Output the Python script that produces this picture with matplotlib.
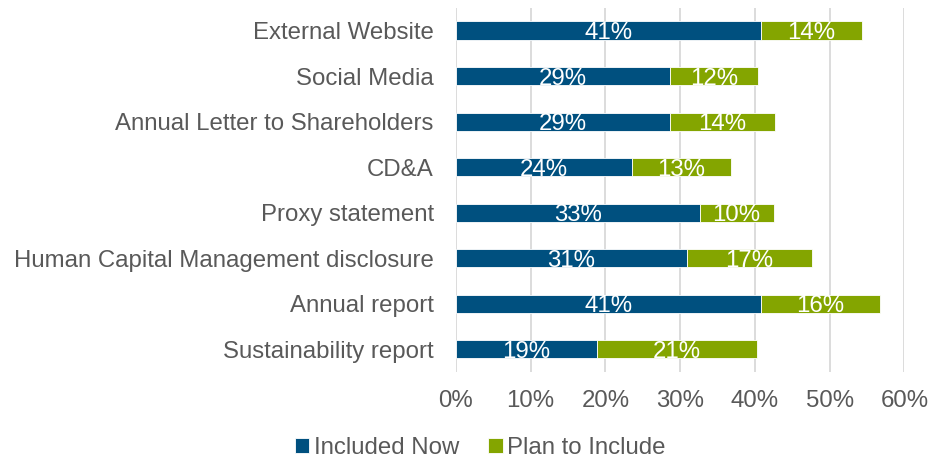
import numpy as np
import matplotlib.pyplot as plt

categories = [
    "External Website",
    "Social Media",
    "Annual Letter to Shareholders",
    "CD&A",
    "Proxy statement",
    "Human Capital Management disclosure",
    "Annual report",
    "Sustainability report",
]
included_now = [40.8, 28.6, 28.6, 23.6, 32.6, 30.9, 40.8, 18.9]
plan_to_include = [13.6, 11.8, 14.1, 13.2, 9.9, 16.8, 16.0, 21.4]
xticks = [0, 10, 20, 30, 40, 50, 60]

blue = "#00507F"
green = "#84A500"
grey = "#595959"

plt.rcParams["font.family"] = ["Liberation Sans", "DejaVu Sans"]

fig = plt.figure(figsize=(9.42, 4.61), dpi=100)
ax = fig.add_axes([0.484, 0.193, 0.476, 0.790])

y = np.arange(len(categories))
now = np.array(included_now)
plan = np.array(plan_to_include)

b1 = ax.barh(y, now, height=0.4, color=blue, edgecolor="white", linewidth=0.6,
             label="Included Now", zorder=3)
b2 = ax.barh(y, plan, left=now, height=0.4, color=green, edgecolor="white",
             linewidth=0.6, label="Plan to Include", zorder=3)

# white percentage labels centred in each segment
for bars, vals in ((b1, now), (b2, plan)):
    for bar, v in zip(bars, vals):
        ax.text(bar.get_x() + bar.get_width() / 2, bar.get_y() + bar.get_height() / 2,
                f"{v:.0f}%", ha="center", va="center_baseline", color="white",
                fontsize=17.3, zorder=4)

ax.set_xlim(0, 60)
ax.set_ylim(len(categories) - 0.5, -0.5)
ax.set_xticks(xticks)
ax.set_xticklabels([f"{t}%" for t in xticks])
ax.set_yticks(y)
ax.set_yticklabels(categories)
ax.tick_params(axis="both", length=0, labelsize=17.3, labelcolor=grey)
ax.tick_params(axis="x", pad=13)
ax.tick_params(axis="y", pad=16)

ax.grid(axis="x", color="#D9D9D9", linewidth=1.3, zorder=0)
for s in ax.spines.values():
    s.set_visible(False)

fig.legend(handles=[b1, b2], loc="center", bbox_to_anchor=(0.51, 0.028),
           ncol=2, frameon=False, fontsize=17.3, labelcolor=grey,
           handlelength=0.6, handleheight=0.6, handletextpad=0.2, columnspacing=1.2,
           borderpad=0.1)

fig.savefig("out.png", dpi=100)
